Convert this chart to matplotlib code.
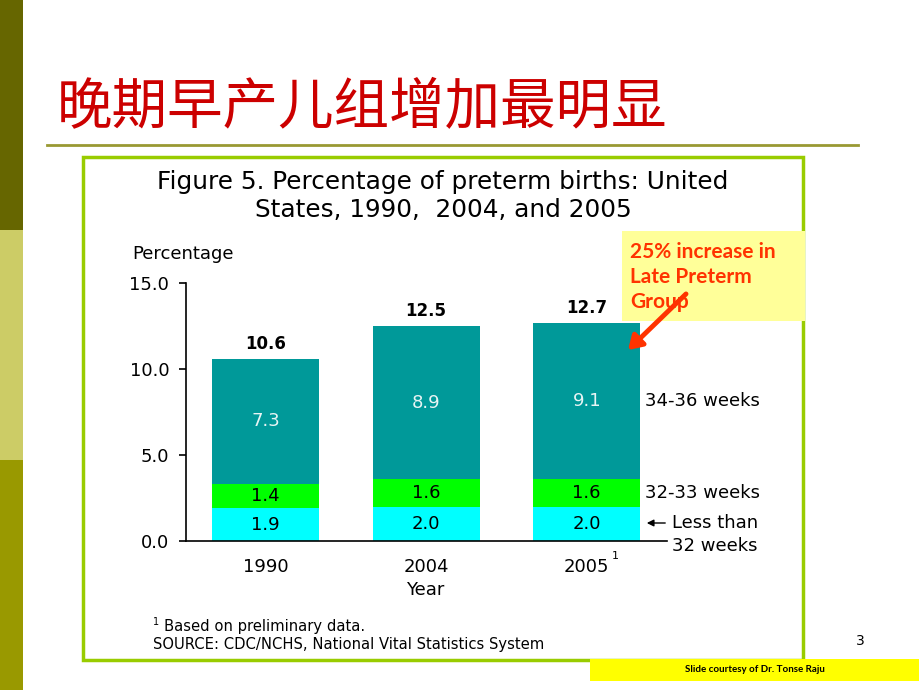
import matplotlib
matplotlib.use("Agg")
import matplotlib.pyplot as plt
from matplotlib.patches import Rectangle, FancyArrowPatch
from matplotlib.lines import Line2D

W, H = 920, 690

years = ["1990", "2004", "2005"]
lt32 = [1.9, 2.0, 2.0]
w32_33 = [1.4, 1.6, 1.6]
w34_36 = [7.3, 8.9, 9.1]
totals = [10.6, 12.5, 12.7]
yticks = [0.0, 5.0, 10.0, 15.0]
ytick_labels = ["0.0", "5.0", "10.0", "15.0"]

c_lt32 = "#00FFFF"
c_3233 = "#00FF00"
c_3436 = "#009999"

LAT = "DejaVu Sans"

fig = plt.figure(figsize=(W / 100, H / 100), dpi=100)
fig.patch.set_facecolor("white")

def fx(x):
    return x / W

def fy(y):
    return 1 - y / H

def rect_px(x0, y0, x1, y1, **kw):
    r = Rectangle((fx(x0), fy(y1)), fx(x1) - fx(x0), fy(y0) - fy(y1),
                  transform=fig.transFigure, **kw)
    fig.add_artist(r)
    return r

# left sidebar
rect_px(0, 0, 23, 230, facecolor="#666600", edgecolor="none")
rect_px(0, 230, 23, 460, facecolor="#CCCC66", edgecolor="none")
rect_px(0, 460, 23, 690, facecolor="#999900", edgecolor="none")

# slide title
fig.text(fx(57), fy(108), "晚期早产儿组增加最明显", color="#CC0000", fontsize=40,
         family=["Noto Sans CJK SC", "DejaVu Sans"], ha="left", va="center")
fig.add_artist(Line2D([fx(47), fx(858)], [fy(145), fy(145)], transform=fig.transFigure,
                      color="#999933", lw=2))

# green frame
rect_px(83, 157, 803, 660, facecolor="none", edgecolor="#99CC00", lw=2.5)

# chart title
fig.text(fx(443), fy(196), "Figure 5. Percentage of preterm births: United\nStates, 1990,  2004, and 2005",
         ha="center", va="center", fontsize=17.8, family=LAT, linespacing=1.25)

# axes
ax = fig.add_axes([fx(186), fy(541), fx(667) - fx(186), fy(283) - fy(541)])
x = list(range(len(years)))
bw = 0.667
ax.bar(x, lt32, bw, color=c_lt32, zorder=2)
ax.bar(x, w32_33, bw, bottom=lt32, color=c_3233, zorder=2)
bott = [a + b for a, b in zip(lt32, w32_33)]
ax.bar(x, w34_36, bw, bottom=bott, color=c_3436, zorder=2)

ax.set_xlim(-0.495, 2.50)
ax.set_ylim(0, 15)
for s in ["top", "right"]:
    ax.spines[s].set_visible(False)
ax.spines["left"].set_linewidth(1.2)
ax.spines["bottom"].set_linewidth(1.2)
ax.set_yticks(yticks)
ax.set_yticklabels(ytick_labels, family=LAT, fontsize=13)
ax.tick_params(axis="y", direction="out", length=5, width=1.2, pad=7)
ax.set_xticks(x)
ax.set_xticklabels(years, family=LAT, fontsize=13)
ax.tick_params(axis="x", length=0, pad=12)
ax.set_facecolor("none")

for i in x:
    ax.text(i, lt32[i] / 2, f"{lt32[i]:.1f}", ha="center", va="center",
            fontsize=13, family=LAT, color="black")
    ax.text(i, lt32[i] + w32_33[i] / 2, f"{w32_33[i]:.1f}", ha="center", va="center",
            fontsize=13, family=LAT, color="black")
    ax.text(i, bott[i] + w34_36[i] / 2, f"{w34_36[i]:.1f}", ha="center", va="center",
            fontsize=13, family=LAT, color="#E8F4F4")
    ax.annotate(f"{totals[i]:.1f}", (i, totals[i]), xytext=(0, 4), textcoords="offset points",
                ha="center", va="bottom", fontsize=12, fontweight="bold", family=LAT)

# superscript on 2005
fig.text(fx(612), fy(556), "1", fontsize=8, family=LAT, ha="left", va="center")

fig.text(fx(425), fy(590), "Year", ha="center", va="center", fontsize=13, family=LAT)
fig.text(fx(183), fy(254), "Percentage", ha="center", va="center", fontsize=13, family=LAT)

# right-side series labels
fig.text(fx(645), fy(401), "34-36 weeks", ha="left", va="center", fontsize=13, family=LAT)
fig.text(fx(645), fy(493), "32-33 weeks", ha="left", va="center", fontsize=13, family=LAT)
fig.text(fx(672), fy(523), "Less than", ha="left", va="center", fontsize=13, family=LAT)
fig.text(fx(672), fy(546), "32 weeks", ha="left", va="center", fontsize=13, family=LAT)
fig.add_artist(FancyArrowPatch((fx(668), fy(523)), (fx(644), fy(523)), transform=fig.transFigure,
                               arrowstyle="-|>,head_length=4,head_width=2", color="black", lw=1))

# footnotes
fig.text(fx(153), fy(622), "1", fontsize=7, family=LAT, ha="left", va="center")
fig.text(fx(164), fy(627), "Based on preliminary data.", fontsize=10.6, family=LAT,
         ha="left", va="center")
fig.text(fx(153), fy(645), "SOURCE: CDC/NCHS, National Vital Statistics System", fontsize=10.6,
         family=LAT, ha="left", va="center")

# callout box
rect_px(622, 231, 805, 321, facecolor="#FFFF99", edgecolor="none")
fig.text(fx(630), fy(277), "25% increase in\nLate Preterm\nGroup", color="#FF3300",
         fontsize=15, fontweight="bold", family="Lato", ha="left", va="center", linespacing=1.3)
fig.add_artist(FancyArrowPatch((fx(688), fy(292)), (fx(626), fy(352)), transform=fig.transFigure,
                               arrowstyle="-|>,head_length=8,head_width=5", color="#FF3300", lw=3.5))

# page number & courtesy
fig.text(fx(860), fy(641), "3", fontsize=10, family=LAT, ha="center", va="center")
rect_px(590, 659, 920, 681, facecolor="#FFFF00", edgecolor="none")
fig.text(fx(755), fy(670), "Slide courtesy of Dr. Tonse Raju", fontsize=7, fontweight="bold",
         family="Lato", ha="center", va="center")

fig.savefig("out.png", dpi=100)
